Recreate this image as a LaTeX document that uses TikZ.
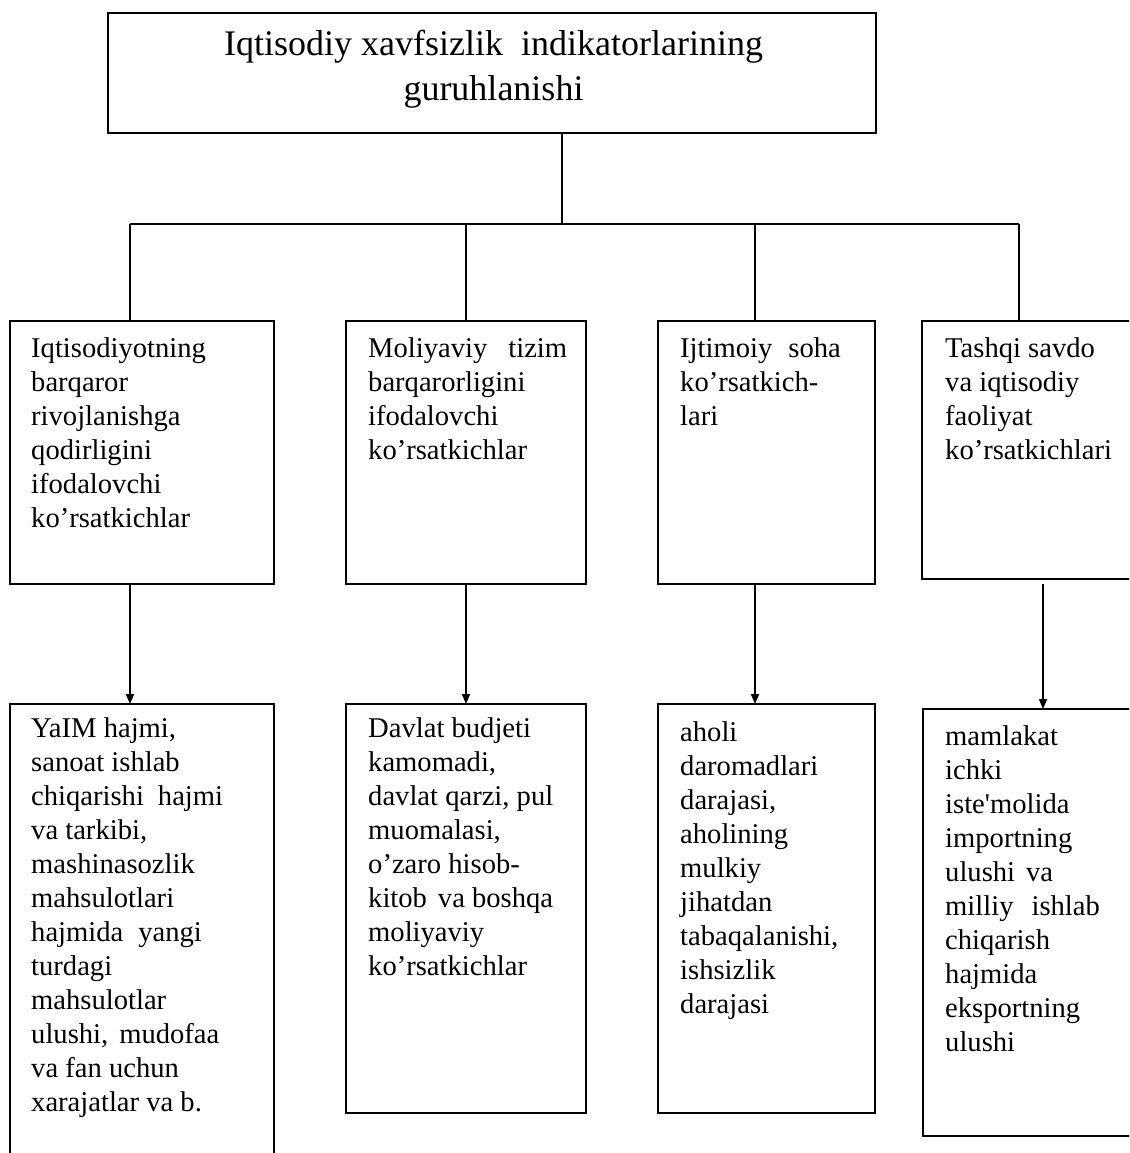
\documentclass[tikz,border=0pt]{standalone}
\usepackage{fontspec}
\setmainfont{Liberation Serif}
\usetikzlibrary{arrows.meta,calc}
\begin{document}
\begin{tikzpicture}[x=1pt,y=-1pt,
  bx/.style 2 args={draw,line width=1.3pt,inner sep=0pt,outer sep=0pt,anchor=north west,minimum width=#1,minimum height=#2},
  txt/.style={anchor=base west,inner sep=0pt,font=\fontsize{28.6}{34}\selectfont},
  ttl/.style={anchor=base,inner sep=0pt,font=\fontsize{36}{45}\selectfont},
  link/.style={draw,line width=1.2pt},
  arr/.style={draw,line width=1.8pt,-{Triangle[length=10pt,width=8pt]}}]
\useasboundingbox (0,0) rectangle (1129,1153);
\clip (0,0) rectangle (1129,1153);
\fill[white] (0,0) rectangle (1129,1153);

% title
\node[bx={768pt}{120pt}] (T) at (108,13) {};
\node[ttl] (Tt) at (493.5,56) {\parbox[t]{740pt}{\centering Iqtisodiy xavfsizlik\hspace{18pt}indikatorlarining\\ guruhlanishi}};

% row 1 boxes
\node[bx={264pt}{263pt}] (r1) at (10,321) {};
\node[bx={240pt}{263pt}] (r2) at (346,321) {};
\node[bx={217pt}{263pt}] (r3) at (658,321) {};
\node[bx={243pt}{258pt}] (r4) at (922,321) {};

\node[txt] (r1t) at (31,357) {\parbox[t]{250pt}{\raggedright Iqtisodiyotning\\ barqaror\\ rivojlanishga\\ qodirligini\\ ifodalovchi\\ ko’rsatkichlar}};
\node[txt] (r2t) at (368,357) {\parbox[t]{250pt}{\raggedright Moliyaviy\hspace{21pt}tizim\\ barqarorligini\\ ifodalovchi\\ ko’rsatkichlar}};
\node[txt] (r3t) at (680,357) {\parbox[t]{250pt}{\raggedright Ijtimoiy\hspace{16pt}soha\\ ko’rsatkich-\\ lari}};
\node[txt] (r4t) at (945,357) {\parbox[t]{250pt}{\raggedright Tashqi savdo\\ va iqtisodiy\\ faoliyat\\ ko’rsatkichlari}};

% row 2 boxes
\node[bx={264pt}{520pt}] (s1) at (10,704) {};
\node[bx={240pt}{409pt}] (s2) at (346,704) {};
\node[bx={217pt}{409pt}] (s3) at (658,704) {};
\node[bx={242pt}{427pt}] (s4) at (923,709) {};

\node[txt] (s1t) at (31,737) {\parbox[t]{250pt}{\raggedright YaIM hajmi,\\ sanoat ishlab\\ chiqarishi\hspace{14pt}hajmi\\ va tarkibi,\\ mashinasozlik\\ mahsulotlari\\ hajmida\hspace{15pt}yangi\\ turdagi\\ mahsulotlar\\ ulushi,\hspace{11pt}mudofaa\\ va fan uchun\\ xarajatlar va b.}};
\node[txt] (s2t) at (368,737) {\parbox[t]{250pt}{\raggedright Davlat budjeti\\ kamomadi,\\ davlat qarzi, pul\\ muomalasi,\\ o’zaro hisob-\\ kitob\hspace{11pt}va boshqa\\ moliyaviy\\ ko’rsatkichlar}};
\node[txt] (s3t) at (680,741) {\parbox[t]{250pt}{\raggedright aholi\\ daromadlari\\ darajasi,\\ aholining\\ mulkiy\\ jihatdan\\ tabaqalanishi,\\ ishsizlik\\ darajasi}};
\node[txt] (s4t) at (945,745) {\parbox[t]{250pt}{\raggedright mamlakat\\ ichki\\ iste\textquotesingle molida\\ importning\\ ulushi\hspace{11pt}va\\ milliy\hspace{18pt}ishlab\\ chiqarish\\ hajmida\\ eksportning\\ ulushi}};

% tree connectors
\coordinate (k0) at (562,0);
\coordinate (k1) at (130,0);
\coordinate (k2) at (466,0);
\coordinate (k3) at (755,0);
\coordinate (k4) at (1019,0);
\coordinate (a4) at (1043,0);
\coordinate (bus) at (0,224);

\draw[link] (T.south -| k0) -- (bus -| k0);
\draw[link] (bus -| k1) -- (bus -| k4);
\draw[link] (bus -| k1) -- (r1.north -| k1);
\draw[link] (bus -| k2) -- (r2.north -| k2);
\draw[link] (bus -| k3) -- (r3.north -| k3);
\draw[link] (bus -| k4) -- (r4.north -| k4);

\draw[arr] (r1.south -| k1) -- (s1.north -| k1);
\draw[arr] (r2.south -| k2) -- (s2.north -| k2);
\draw[arr] (r3.south -| k3) -- (s3.north -| k3);
\draw[arr,shorten <=5pt] (r4.south -| a4) -- (s4.north -| a4);
\end{tikzpicture}
\end{document}
